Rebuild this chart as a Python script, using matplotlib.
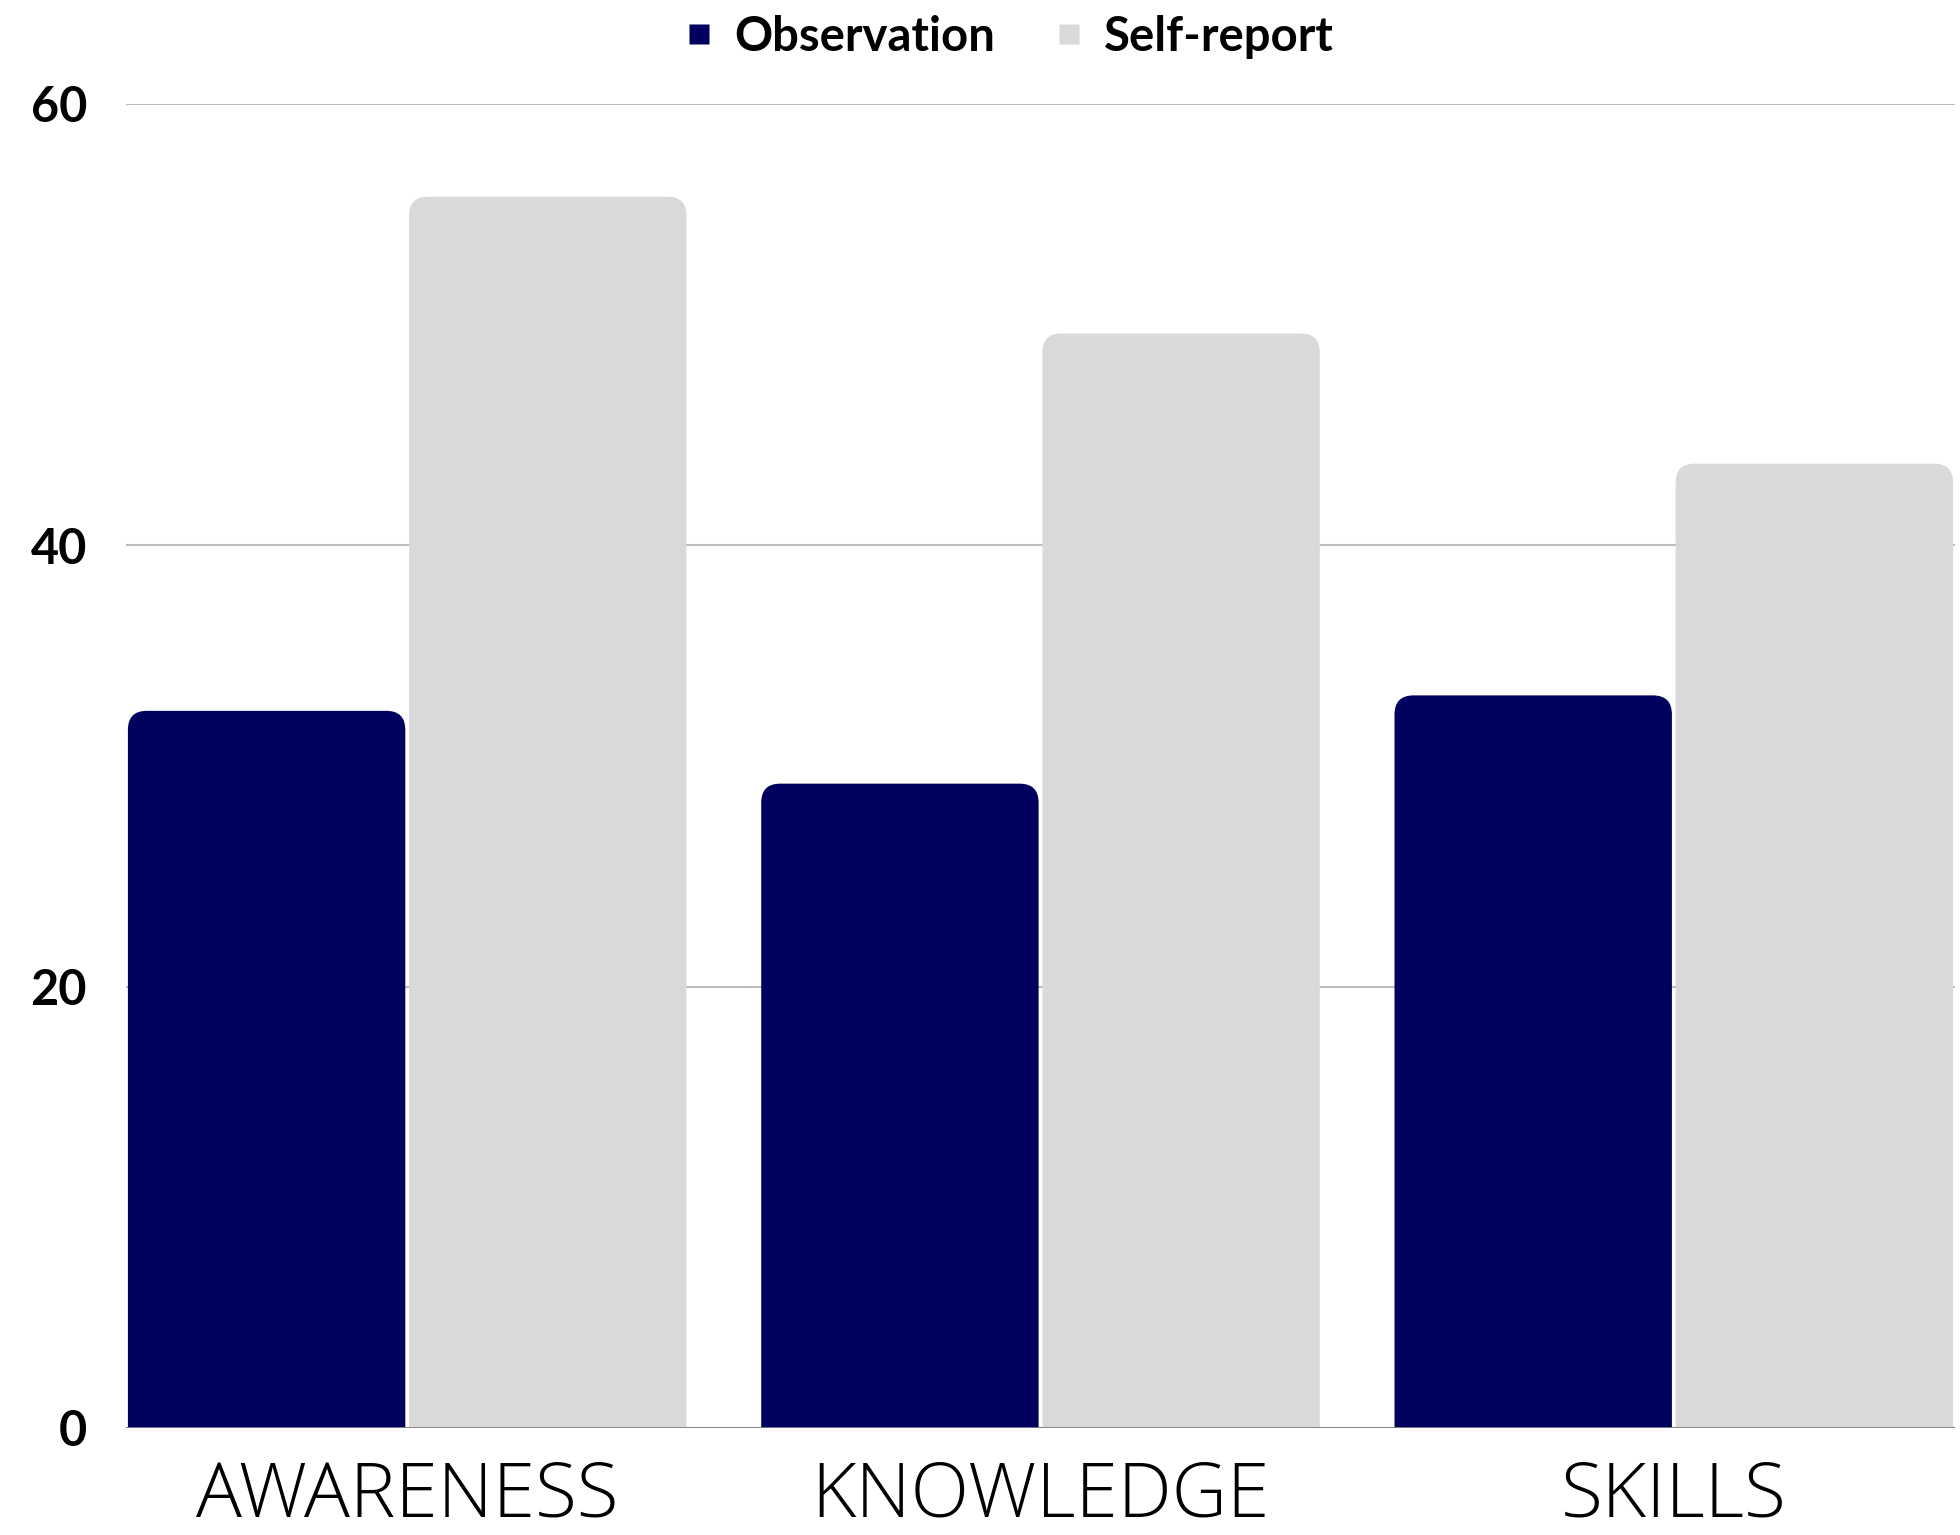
import matplotlib
matplotlib.use('Agg')
import matplotlib.pyplot as plt
from matplotlib.patches import FancyBboxPatch
from matplotlib.lines import Line2D
import numpy as np

# Data
categories = ['AWARENESS', 'KNOWLEDGE', 'SKILLS']
observation = [32.5, 29.2, 33.2]
self_report = [55.8, 49.6, 43.7]
series_names = ['Observation', 'Self-report']
yticks = [0, 20, 40, 60]

navy = '#00005E'
grey = '#D9D9D9'

plt.rcParams['font.family'] = ['Lato', 'DejaVu Sans']

fig = plt.figure(figsize=(19.6, 15.35), dpi=100)
ax = fig.add_axes([126 / 1960, 1 - 1428 / 1535, (1955 - 126) / 1960, (1428 - 104) / 1535])

x = np.arange(len(categories))
width = 0.444
bars_obs = ax.bar(x - width / 2, observation, width, color=navy, zorder=3)
bars_self = ax.bar(x + width / 2, self_report, width, color=grey, zorder=3)

ax.set_xlim(-width, len(categories) - 1 + width)
ax.set_ylim(0, 60)

# swap the plain rectangles for round-topped boxes
r = 0.03
aspect = 0.86 / r
for rect in list(bars_obs) + list(bars_self):
    x0, w, h = rect.get_x(), rect.get_width(), rect.get_height()
    gap = 0.003
    box = FancyBboxPatch((x0 + gap, -3), w - 2 * gap, h + 3,
                         boxstyle=f'round,pad=0,rounding_size={r}',
                         mutation_aspect=aspect,
                         facecolor=rect.get_facecolor(), edgecolor='none',
                         zorder=3, clip_on=True)
    ax.add_patch(box)
    rect.set_visible(False)

ax.set_yticks(yticks)
ax.set_yticklabels([str(t) for t in yticks], fontsize=35, fontweight='bold')
ax.yaxis.grid(True, color='#BDBDBD', linewidth=1.5, zorder=0)
ax.axhline(0, color='#808080', linewidth=2, zorder=4)
ax.tick_params(axis='y', length=0, pad=28)
ax.tick_params(axis='x', length=0, pad=22)
ax.set_xticks(x)
ax.set_xticklabels(categories, fontsize=55, fontweight='light',
                   family=['Open Sans', 'DejaVu Sans'])
for s in ax.spines.values():
    s.set_visible(False)

handles = [Line2D([], [], marker='s', linestyle='none', markersize=14,
                  markerfacecolor=c, markeredgecolor='none') for c in (navy, grey)]
fig.legend(handles, series_names, loc='center', bbox_to_anchor=(0.515, 1 - 37 / 1535),
           ncol=2, frameon=False, prop={'size': 34, 'weight': 'bold'},
           handlelength=0.6, handletextpad=0.45, columnspacing=1.25)

fig.savefig('out.png', dpi=100)
